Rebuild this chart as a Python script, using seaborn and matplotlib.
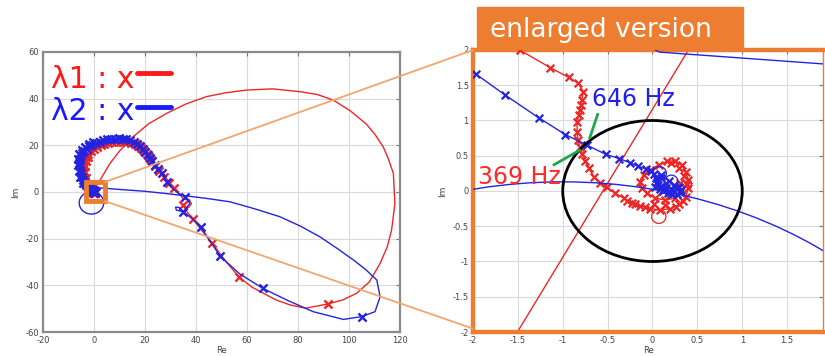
import matplotlib
matplotlib.use("Agg")
import matplotlib.pyplot as plt
from matplotlib.patches import Ellipse, Rectangle, ConnectionPatch
from matplotlib.lines import Line2D
from matplotlib.ticker import FuncFormatter
import seaborn as sns

# ---------------- data (Re, Im) ----------------
# lambda1 path (red): inner spiral -> arc -> diagonal -> big loop -> back to origin
red_line_x = [0.31, 0.31, 0.25, 0.14, 0.03, -0.06, -0.12, -0.14, -0.10, -0.03, 0.07, 0.16, 0.25, 0.33, 0.37,
              0.40, 0.40, 0.37, 0.30, 0.20, 0.08, -0.03, -0.14, -0.23, -0.32, -0.42, -0.51, -0.58, -0.65, -0.71,
              -0.75, -0.78, -0.81, -0.83, -0.84, -0.84, -0.82, -0.81, -0.80, -0.79, -0.77, -0.83, -0.93, -1.14, -1.48,
              -2.2, -2.9, -3.5, -3.9, -4.2, -4.4, -4.4, -4.2, -3.7, -3.0, -2.2, -1.2, 0.0, 1.3, 2.7, 4.1, 5.6, 7.1,
              8.6, 10.1, 11.6, 13.1, 14.6, 16.0, 17.3, 18.5, 19.6, 20.6, 21.5, 22.4,
              24.0, 25.6, 27.4, 29.3, 31.4, 33.5, 35.0, 37.3, 38.2, 37.2, 35.4, 35.0, 36.5, 38.9, 42.5, 46.4, 51.5,
              57.0, 62.0, 66.4, 71.5, 76.9, 83.0, 91.6, 97.5, 103.0, 108.0, 112.2, 115.0, 116.7, 118.0, 117.4,
              115.5, 113.4, 110.3, 106.9, 100.5, 93.8, 87.5, 80.8, 70.0, 59.9, 51.5, 44.2, 36.0, 28.5, 21.5, 15.4,
              10.2, 6.3, 2.4, 0.4, -1.6]
red_line_y = [0.11, -0.01, -0.10, -0.13, -0.10, -0.03, 0.04, 0.13, 0.23, 0.30, 0.37, 0.42, 0.43, 0.37, 0.27,
              0.16, 0.04, -0.08, -0.19, -0.25, -0.27, -0.25, -0.21, -0.17, -0.10, -0.03, 0.05, 0.12, 0.20, 0.32,
              0.43, 0.53, 0.62, 0.72, 0.84, 0.98, 1.08, 1.15, 1.22, 1.29, 1.41, 1.53, 1.61, 1.75, 2.0,
              2.6, 3.6, 4.8, 6.2, 7.6, 9.1, 10.7, 12.3, 13.8, 15.2, 16.4, 17.5, 18.5, 19.3, 20.0, 20.6, 21.0, 21.3,
              21.5, 21.6, 21.6, 21.4, 21.0, 20.4, 19.6, 18.7, 17.6, 16.4, 15.2, 13.9,
              11.2, 8.8, 6.3, 3.9, 1.7, -0.8, -3.0, -3.3, -5.0, -6.6, -6.4, -5.6, -8.5, -11.7, -16.8, -22.0, -29.5,
              -36.6, -40.8, -43.4, -46.3, -48.4, -49.8, -48.0, -46.3, -43.4, -38.5, -30.6, -23.5, -16.3, -5.0, 8.0,
              14.0, 19.4, 24.5, 29.0, 34.8, 39.4, 41.8, 43.0, 44.2, 43.7, 42.5, 40.9, 37.7, 33.7, 29.3, 23.7,
              17.8, 12.3, 5.1, 2.0, -2.2]

red_mark_x = [0.31, 0.31, 0.25, 0.14, 0.03, -0.06, -0.12, -0.14, -0.10, -0.03, 0.07, 0.16, 0.25, 0.33, 0.37,
              0.40, 0.40, 0.37, 0.30, 0.20, 0.08, -0.03, -0.14, -0.23, -0.32, -0.42, -0.51, -0.58, -0.65, -0.71,
              -0.75, -0.78, -0.81, -0.83, -0.84, -0.84, -0.82, -0.81, -0.80, -0.79, -0.77, -0.83, -0.93, -1.14, -1.48,
              0.35, 0.38, 0.34, 0.26, 0.14, 0.02, -0.08, -0.19, -0.28, 0.21, 0.29,
              -2.2, -2.9, -3.5, -3.9, -4.2, -4.4, -4.4, -4.2, -3.7, -3.0, -2.2, -1.2, 0.0, 1.3, 2.7, 4.1, 5.6, 7.1,
              8.6, 10.1, 11.6, 13.1, 14.6, 16.0, 17.3, 18.5, 19.6, 20.6, 21.5, 22.4,
              -3.3, -3.6, -3.6, -3.2, -2.5,
              24.0, 25.6, 27.4, 29.3, 31.4, 35.0, 38.9, 46.4, 57.0, 91.6]
red_mark_y = [0.11, -0.01, -0.10, -0.13, -0.10, -0.03, 0.04, 0.13, 0.23, 0.30, 0.37, 0.42, 0.43, 0.37, 0.27,
              0.16, 0.04, -0.08, -0.19, -0.25, -0.27, -0.25, -0.21, -0.17, -0.10, -0.03, 0.05, 0.12, 0.20, 0.32,
              0.43, 0.53, 0.62, 0.72, 0.84, 0.98, 1.08, 1.15, 1.22, 1.29, 1.41, 1.53, 1.61, 1.75, 2.0,
              0.21, 0.10, -0.14, -0.22, -0.20, -0.18, -0.23, -0.19, -0.14, 0.40, 0.33,
              2.6, 3.6, 4.8, 6.2, 7.6, 9.1, 10.7, 12.3, 13.8, 15.2, 16.4, 17.5, 18.5, 19.3, 20.0, 20.6, 21.0, 21.3,
              21.5, 21.6, 21.6, 21.4, 21.0, 20.4, 19.6, 18.7, 17.6, 16.4, 15.2, 13.9,
              6.0, 8.5, 11.0, 13.2, 14.8,
              11.2, 8.8, 6.3, 3.9, 1.7, -5.6, -11.7, -22.0, -36.6, -48.0]

# lambda2 path (blue): inner cluster -> arc -> diagonal -> loop -> back to origin
blue_line_x = [0.18, 0.10, 0.15, 0.21, 0.27, 0.32, 0.31, 0.27, 0.22, 0.17, 0.12, 0.08, 0.06, 0.09, 0.05, 0.04,
               0.02, -0.02, -0.07, -0.16, -0.25, -0.37, -0.52, -0.73, -0.97, -1.27, -1.64, -1.97,
               -2.5, -3.1, -3.7, -4.2, -4.7, -5.1, -5.4, -5.6, -5.7, -5.6, -5.2, -4.6, -3.8, -2.9, -1.8, -0.6, 0.8,
               2.2, 3.7, 5.2, 6.7, 8.2, 9.7, 11.2, 12.7, 14.1, 15.5, 16.8, 18.0, 19.1, 20.1, 21.0, 21.8, 22.6,
               23.9, 25.2, 26.5, 27.5, 28.5, 30.0, 33.0, 35.7, 37.6, 35.0, 32.3, 32.0, 33.3, 35.0, 38.5, 41.8, 45.5,
               49.4, 57.0, 66.2, 76.0, 86.0, 97.8, 105.0, 110.2, 112.2, 110.9, 106.5, 101.7, 95.5, 88.6, 80.9, 72.9,
               63.0, 53.3, 44.5, 35.7, 27.8, 20.0, 10.0, 1.93, 0.08, -0.6]
blue_line_y = [0.14, 0.07, 0.04, 0.03, 0.04, 0.02, -0.02, -0.04, -0.04, -0.03, 0.00, 0.03, 0.08, 0.18, 0.13, 0.19,
               0.24, 0.28, 0.31, 0.35, 0.40, 0.46, 0.52, 0.65, 0.80, 1.04, 1.36, 1.66,
               2.0, 2.9, 4.0, 5.2, 6.6, 8.0, 9.5, 11.0, 12.5, 14.0, 15.3, 16.5, 17.6, 18.6, 19.5, 20.3, 21.0,
               21.6, 22.1, 22.5, 22.8, 22.9, 23.0, 22.9, 22.6, 22.1, 21.4, 20.5, 19.5, 18.4, 17.2, 15.9, 14.6, 13.2,
               11.6, 9.8, 8.0, 6.2, 4.4, 2.3, -0.5, -2.0, -4.9, -8.4, -7.8, -6.5, -6.6, -8.4, -11.4, -14.9, -21.0,
               -27.4, -35.0, -41.3, -46.5, -51.3, -54.6, -53.4, -51.3, -44.9, -37.7, -33.2, -29.1, -24.3, -19.2,
               -14.6, -10.6, -7.2, -4.2, -2.8, -1.6, -0.6, 0.3, 1.1, 1.8, 1.97, 2.4]

blue_mark_x = [0.18, 0.10, 0.15, 0.21, 0.27, 0.32, 0.31, 0.27, 0.22, 0.17, 0.12, 0.08, 0.06, 0.09, 0.05, 0.04,
               0.02, -0.02, -0.07, -0.16, -0.25, -0.37, -0.52, -0.73, -0.97, -1.27, -1.64, -1.97,
               0.03, 0.12, 0.24, 0.29, 0.19, 0.10, 0.14,
               -2.5, -3.1, -3.7, -4.2, -4.7, -5.1, -5.4, -5.6, -5.7, -5.6, -5.2, -4.6, -3.8, -2.9, -1.8, -0.6, 0.8,
               2.2, 3.7, 5.2, 6.7, 8.2, 9.7, 11.2, 12.7, 14.1, 15.5, 16.8, 18.0, 19.1, 20.1, 21.0, 21.8, 22.6,
               -4.4, -5.3, -6.0, -6.4, -6.4, -5.9, -4.9, -3.6, -2.1, -0.4,
               23.9, 25.2, 26.5, 28.5, 35.7, 35.0, 41.8, 49.4, 66.2, 105.0]
blue_mark_y = [0.14, 0.07, 0.04, 0.03, 0.04, 0.02, -0.02, -0.04, -0.04, -0.03, 0.00, 0.03, 0.08, 0.18, 0.13, 0.19,
               0.24, 0.28, 0.31, 0.35, 0.40, 0.46, 0.52, 0.65, 0.80, 1.04, 1.36, 1.66,
               0.05, 0.02, 0.08, 0.06, -0.01, 0.22, 0.04,
               2.0, 2.9, 4.0, 5.2, 6.6, 8.0, 9.5, 11.0, 12.5, 14.0, 15.3, 16.5, 17.6, 18.6, 19.5, 20.3, 21.0,
               21.6, 22.1, 22.5, 22.8, 22.9, 23.0, 22.9, 22.6, 22.1, 21.4, 20.5, 19.5, 18.4, 17.2, 15.9, 14.6, 13.2,
               4.0, 6.3, 8.8, 11.4, 14.0, 16.2, 18.0, 19.4, 20.5, 21.4,
               11.6, 9.8, 8.0, 4.4, -2.0, -8.4, -14.9, -27.4, -41.3, -53.4]

# small circles (center x, center y, width, height)
blue_circle = (-1.0, -4.67, 9.6, 9.6)
unit_circle = (0.0, 0.0, 2.0, 2.0)
small_blue_circles = [(0.08, 0.25, 0.15, 0.19), (0.21, 0.13, 0.15, 0.19)]
small_red_circle = (0.07, -0.36, 0.16, 0.20)

freq_labels = ["646 Hz", "369 Hz"]
legend_labels = ["λ1 : x", "λ2 : x"]
left_xticks = [-20, 0, 20, 40, 60, 80, 100, 120]
left_yticks = [-60, -40, -20, 0, 20, 40, 60]
right_xticks = [-2, -1.5, -1, -0.5, 0, 0.5, 1, 1.5]
right_yticks = [-2, -1.5, -1, -0.5, 0, 0.5, 1, 1.5, 2]

RED = "#ee2626"
BLUE = "#2424e0"
ORANGE = "#ed7d31"
LORANGE = "#f2a66e"

sns.set_style("white")
plt.rcParams["font.family"] = ["DejaVu Sans"]

fig = plt.figure(figsize=(8.25, 3.56), dpi=100)
ax1 = fig.add_axes([43 / 825, 1 - 332 / 356, 357 / 825, 280 / 356])
ax2 = fig.add_axes([473 / 825, 1 - 332 / 356, 350 / 825, 282 / 356])


def draw_paths(ax, ms, mlw):
    sns.lineplot(x=red_line_x, y=red_line_y, sort=False, estimator=None, color=RED, lw=1.0, ax=ax, zorder=2)
    sns.scatterplot(x=red_mark_x, y=red_mark_y, marker="x", s=ms, color=RED, linewidth=mlw, ax=ax, zorder=3)
    sns.lineplot(x=blue_line_x, y=blue_line_y, sort=False, estimator=None, color=BLUE, lw=1.0, ax=ax, zorder=4)
    sns.scatterplot(x=blue_mark_x, y=blue_mark_y, marker="x", s=ms, color=BLUE, linewidth=mlw, ax=ax, zorder=5)
    cx, cy, w, h = blue_circle
    ax.add_patch(Ellipse((cx, cy), w, h, fill=False, ec=BLUE, lw=1.0, zorder=4))


def style_axes(ax, xt, yt, spine_color, spine_lw):
    ax.set_xticks(xt)
    ax.set_yticks(yt)
    fmt = FuncFormatter(lambda v, p: f"{v:g}")
    ax.xaxis.set_major_formatter(fmt)
    ax.yaxis.set_major_formatter(fmt)
    ax.grid(True, color="#dadada", lw=0.8)
    ax.set_axisbelow(True)
    ax.tick_params(direction="in", top=True, right=True, length=3, width=0.8,
                   labelsize=6, labelcolor="#444444", color="#777777", pad=3)
    for s in ax.spines.values():
        s.set_color(spine_color)
        s.set_linewidth(spine_lw)
    ax.set_xlabel("Re", fontsize=6, color="#444444", labelpad=0.5)
    ax.set_ylabel("Im", fontsize=6.5, color="#444444", labelpad=4)


# left full view
draw_paths(ax1, 34, 1.7)
ax1.set_xlim(-20, 120)
ax1.set_ylim(-60, 60)
style_axes(ax1, left_xticks, left_yticks, "#8a8a8a", 1.6)
ax1.add_patch(Rectangle((-3.1, -3.9), 7.4, 8.2, fill=False, ec=ORANGE, lw=3.5, zorder=8))

# right enlarged view
draw_paths(ax2, 30, 1.6)
ax2.set_xlim(-2, 1.9)
ax2.set_ylim(-2, 2)
style_axes(ax2, right_xticks, right_yticks, ORANGE, 3.2)
ax2.spines["right"].set_linewidth(1.0)
ax2.add_patch(Ellipse(unit_circle[:2], unit_circle[2], unit_circle[3], fill=False, ec="black", lw=2.0, zorder=6))
for (cx, cy, w, h) in small_blue_circles:
    ax2.add_patch(Ellipse((cx, cy), w, h, fill=False, ec=BLUE, lw=0.9, zorder=5))
cx, cy, w, h = small_red_circle
ax2.add_patch(Ellipse((cx, cy), w, h, fill=False, ec=RED, lw=0.9, zorder=3))

# frequency annotations
ax2.plot([-0.61, -0.70], [1.09, 0.75], color="#1fa64f", lw=2.0, zorder=7)
ax2.plot([-1.10, -0.81], [0.37, 0.58], color="#1fa64f", lw=2.0, zorder=7)
ax2.text(-0.67, 1.21, freq_labels[0], color="#2020ee", fontsize=17, zorder=9)
ax2.text(-1.94, 0.10, freq_labels[1], color="#ff2a2a", fontsize=17, zorder=9)

# connecting lines from the square to the enlarged view
for xyA, xyB in [((4.3, 4.3), (0, 1)), ((4.3, -3.9), (0, 0.012))]:
    cp = ConnectionPatch(xyA=xyA, coordsA=ax1.transData, xyB=xyB, coordsB=ax2.transAxes,
                         color=LORANGE, lw=1.3, zorder=7)
    fig.add_artist(cp)

# "enlarged version" banner
fig.add_artist(Rectangle((477 / 825, 1 - 48 / 356), 266 / 825, 41 / 356, transform=fig.transFigure,
                         color=ORANGE, zorder=10))
fig.text(490 / 825, 1 - 37 / 356, "enlarged version", color="white", fontsize=19,
         va="baseline", ha="left", zorder=11)

# legend-like labels
t1 = fig.text(51 / 825, 1 - 88 / 356, legend_labels[0], color="#ff1a1a", fontsize=21.5, va="baseline")
t2 = fig.text(51 / 825, 1 - 120 / 356, legend_labels[1], color="#1a1aff", fontsize=21.5, va="baseline")
fig.canvas.draw()
r = fig.canvas.get_renderer()
for t, ypx, col in [(t1, 73.3, "#ff1a1a"), (t2, 106.7, "#1a1aff")]:
    bb = t.get_window_extent(renderer=r)
    x0 = bb.x1 / 825 + 3 / 825
    fig.add_artist(Line2D([x0, x0 + 34 / 825], [1 - ypx / 356, 1 - ypx / 356], color=col, lw=3.5,
                          transform=fig.transFigure, zorder=11))

fig.savefig("out.png", dpi=100)
